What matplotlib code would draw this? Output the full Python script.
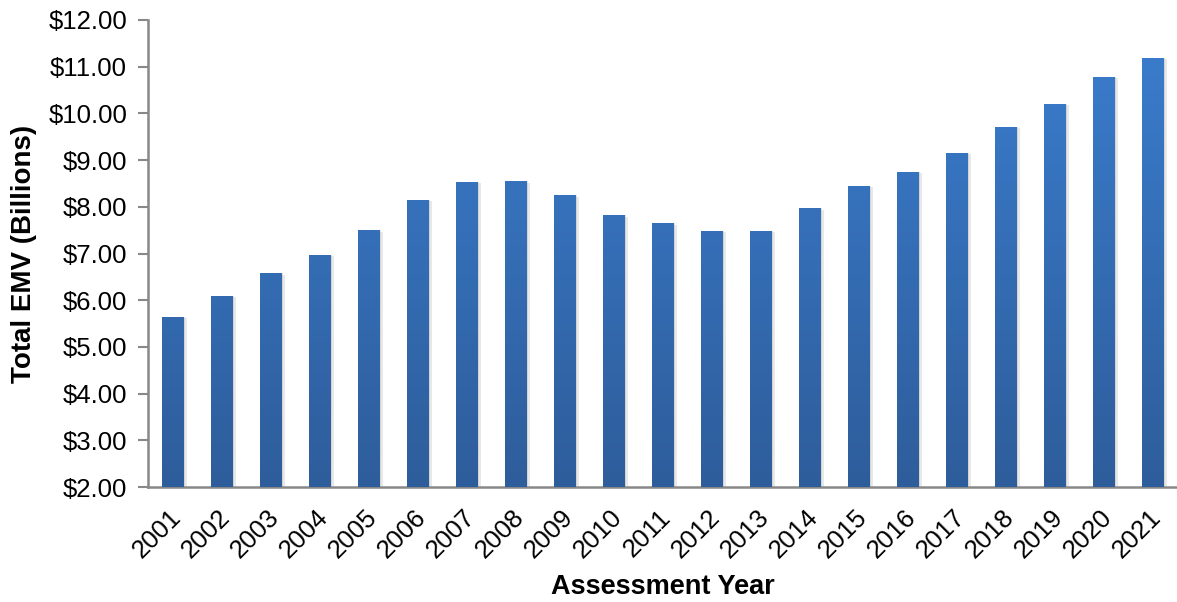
import numpy as np
import matplotlib.pyplot as plt
from matplotlib.colors import LinearSegmentedColormap
from matplotlib.transforms import ScaledTranslation
import matplotlib.patheffects as pe

plt.rcParams['font.family'] = ['Liberation Sans', 'DejaVu Sans']

years = [str(y) for y in range(2001, 2022)]
emv = [5.64, 6.09, 6.58, 6.97, 7.50, 8.15, 8.53, 8.55, 8.25, 7.82, 7.65,
       7.48, 7.48, 7.97, 8.45, 8.75, 9.15, 9.71, 10.20, 10.78, 11.19]
yticks = np.arange(2, 13, 1)

fig = plt.figure(figsize=(11.77, 6.02), dpi=100)
ax = fig.add_axes([0.1257, 0.191, 0.8743, 0.7758])

x = np.arange(len(years))
bars = ax.bar(x, [v - 2 for v in emv], bottom=2, width=0.43, color='none',
              edgecolor='none', zorder=3,
              path_effects=[pe.SimplePatchShadow(offset=(3, -1), shadow_rgbFace='#999999', alpha=0.22),
                            pe.SimplePatchShadow(offset=(1.5, 0), shadow_rgbFace='#999999', alpha=0.25),
                            pe.Normal()])

# vertical gradient inside every bar
cmap = LinearSegmentedColormap.from_list('bar', ['#2e5d9b', '#3b7ecf'])
grad = np.linspace(0, 1, 256).reshape(-1, 1)
for b in bars:
    bx, w = b.get_x(), b.get_width()
    im = ax.imshow(grad, cmap=cmap, origin='lower', aspect='auto',
                   extent=[bx, bx + w, 2, 12], zorder=4)
    im.set_clip_path(b)

ax.set_xlim(-0.5, len(years) - 0.5)
ax.set_ylim(2, 12)
ax.set_yticks(yticks)
ax.set_yticklabels([f'${v:.2f}' for v in yticks], fontsize=18.5)
ax.set_xticks(x)
ax.set_xticklabels(years, rotation=45, ha='right', rotation_mode='anchor', fontsize=18.5)
ax.tick_params(axis='x', length=0, pad=13)
ax.tick_params(axis='y', length=7, width=1.5, color='#888888', pad=8)
shift = ScaledTranslation(-4 / 100, 0, fig.dpi_scale_trans)
for lbl in ax.get_xticklabels():
    lbl.set_transform(lbl.get_transform() + shift)

for side in ['top', 'right']:
    ax.spines[side].set_visible(False)
for side in ['left', 'bottom']:
    ax.spines[side].set_color('#888888')
    ax.spines[side].set_linewidth(1.8)

ax.set_ylabel('Total EMV (Billions)', fontsize=20, fontweight='bold', labelpad=8)
ax.set_xlabel('Assessment Year', fontsize=19.5, fontweight='bold', labelpad=8)

fig.savefig('out.png', dpi=100)
